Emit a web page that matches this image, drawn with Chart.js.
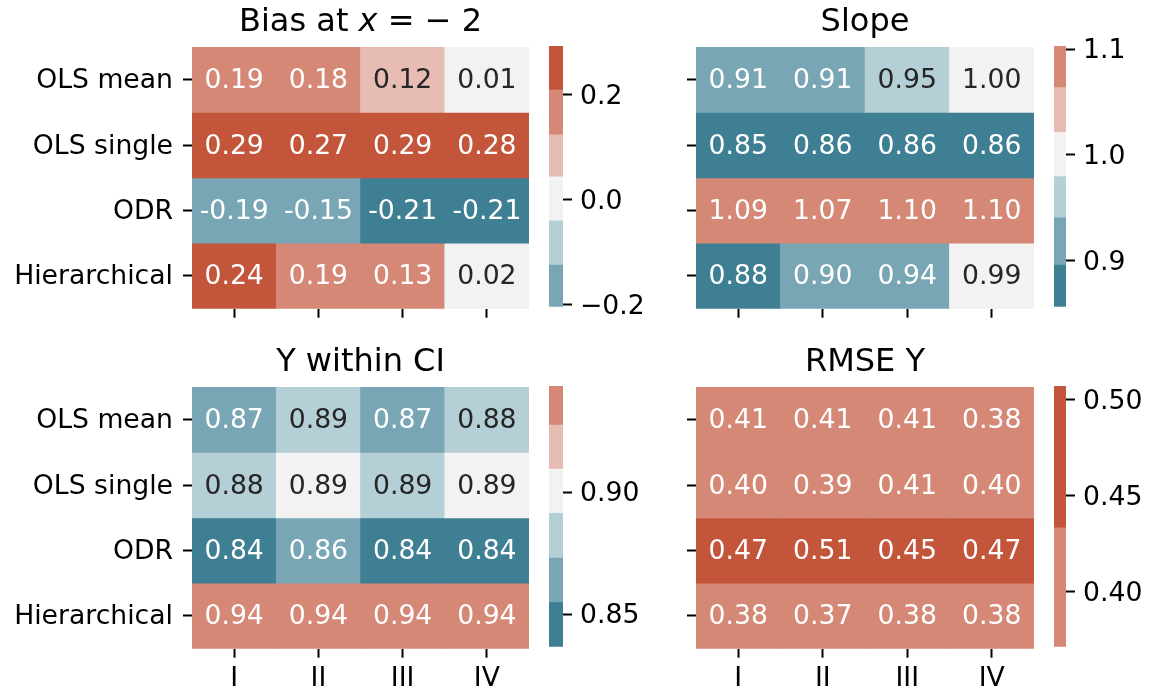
<!DOCTYPE html>
<html>
<head>
<meta charset="utf-8">
<script src="https://cdn.jsdelivr.net/npm/chart.js@4.4.1/dist/chart.umd.min.js"></script>
<style>
  body { margin: 0; background: #fff; }
  #fig { position: relative; width: 1160px; height: 697px; overflow: hidden; background: #fff; }
</style>
</head>
<body>
<div id="fig"></div>
<script>
// rows and columns of every heatmap
const methods = ['OLS mean', 'OLS single', 'ODR', 'Hierarchical'];
const groups = ['I', 'II', 'III', 'IV'];

// cell values, one row per method
const biasVals = [
  [0.19, 0.18, 0.12, 0.01],
  [0.29, 0.27, 0.29, 0.28],
  [-0.19, -0.15, -0.21, -0.21],
  [0.24, 0.19, 0.13, 0.02]
];
const slopeVals = [
  [0.91, 0.91, 0.95, 1.00],
  [0.85, 0.86, 0.86, 0.86],
  [1.09, 1.07, 1.10, 1.10],
  [0.88, 0.90, 0.94, 0.99]
];
const ciVals = [
  [0.87, 0.89, 0.87, 0.88],
  [0.88, 0.892, 0.890, 0.893],
  [0.84, 0.86, 0.84, 0.84],
  [0.94, 0.94, 0.94, 0.94]
];
const rmseVals = [
  [0.41, 0.41, 0.41, 0.38],
  [0.40, 0.39, 0.41, 0.40],
  [0.47, 0.51, 0.45, 0.47],
  [0.38, 0.37, 0.38, 0.38]
];

// 7-step diverging palette (teal -> light grey -> rust)
const palette = ['#3f7f93', '#79a6b4', '#b5cfd7', '#f2f2f2', '#e7bcb2', '#d58875', '#c3553a'];

// bin edges between palette steps for each panel
const biasEdges = [-0.2092, -0.1244, -0.040, 0.0438, 0.1238, 0.209];
const slopeEdges = [0.8959, 0.9405, 0.9795, 1.0215, 1.0637, 1.1055];
const ciEdges = [0.8548, 0.8730, 0.8914, 0.9095, 0.9276, 0.9457];
const rmseEdges = [0.063, 0.137, 0.211, 0.285, 0.359, 0.4333];

// colorbar extents and ticks
const biasRange = [-0.2038, 0.2928];
const slopeRange = [0.8565, 1.1031];
const ciRange = [0.8367, 0.9436];
const rmseRange = [0.3713, 0.5073];
const biasTicks = [-0.2, 0.0, 0.2];
const slopeTicks = [0.9, 1.0, 1.1];
const ciTicks = [0.85, 0.90];
const rmseTicks = [0.40, 0.45, 0.50];

const FONT = '"DejaVu Sans", "Liberation Sans", sans-serif';
const BASE = 26.67;
const fig = document.getElementById('fig');

function binOf(v, edges) {
  let k = 0;
  while (k < edges.length && v >= edges[k]) k++;
  return k;
}

function addCanvas(left, top, w, h) {
  const c = document.createElement('canvas');
  c.width = w;
  c.height = h;
  c.style.cssText = `position:absolute;left:${left}px;top:${top}px;width:${w}px;height:${h}px`;
  fig.appendChild(c);
  return c;
}

// writes the formatted value in the middle of every cell
function cellLabels(vals, edges) {
  return {
    id: 'cellLabels',
    afterDatasetsDraw(chart) {
      const { ctx, scales: { x, y } } = chart;
      ctx.save();
      ctx.font = `${BASE}px ${FONT}`;
      ctx.textAlign = 'center';
      ctx.textBaseline = 'alphabetic';
      vals.forEach((row, r) => row.forEach((v, c) => {
        const k = binOf(v, edges);
        ctx.fillStyle = (k >= 2 && k <= 4) ? '#262626' : '#ffffff';
        ctx.fillText(v.toFixed(2), x.getPixelForValue(c), y.getPixelForValue(r + 0.5) + 8.5);
      }));
      ctx.restore();
    }
  };
}

// panel title, centred on the plot area; parts may be italic
function panelTitle(parts) {
  return {
    id: 'panelTitle',
    afterDraw(chart) {
      const { ctx, chartArea } = chart;
      ctx.save();
      ctx.fillStyle = '#000';
      ctx.textAlign = 'left';
      ctx.textBaseline = 'alphabetic';
      const fonts = parts.map(p => (p[1] ? 'italic ' : '') + `32px ${FONT}`);
      const widths = parts.map((p, i) => { ctx.font = fonts[i]; return ctx.measureText(p[0]).width; });
      const total = widths.reduce((a, b) => a + b, 0);
      let xPos = (chartArea.left + chartArea.right) / 2 - total / 2;
      parts.forEach((p, i) => {
        ctx.font = fonts[i];
        ctx.fillText(p[0], xPos, chartArea.top - 16);
        xPos += widths[i];
      });
      ctx.restore();
    }
  };
}

const tickGrid = { drawOnChartArea: false, tickLength: 9, tickWidth: 2, tickColor: '#000' };

function heatmap(p, box) {
  const canvas = addCanvas(box.left, box.top, box.w, box.h);
  new Chart(canvas, {
    type: 'bar',
    data: {
      labels: groups,
      datasets: methods.map((m, r) => ({
        label: m,
        data: p.vals[r].map(() => [r, r + 1]),
        backgroundColor: p.vals[r].map(v => palette[binOf(v, p.edges)]),
        borderWidth: 0,
        grouped: false,
        barPercentage: 1,
        categoryPercentage: 1
      }))
    },
    options: {
      responsive: false,
      animation: false,
      events: [],
      layout: { padding: { top: 47, right: 16, left: 0, bottom: 0 } },
      plugins: { legend: { display: false }, tooltip: { enabled: false } },
      scales: {
        x: {
          grid: Object.assign({ offset: false }, tickGrid),
          border: { display: false },
          ticks: {
            padding: 5, maxRotation: 0, autoSkip: false, color: '#000',
            font: { family: FONT, size: BASE },
            callback: (v, i) => box.showX ? groups[i] : ''
          },
          afterFit: s => { s.height = box.h - 308.7; }
        },
        y: {
          type: 'linear', min: 0, max: 4, reverse: true,
          afterBuildTicks: s => { s.ticks = methods.map((m, i) => ({ value: i + 0.5 })); },
          grid: tickGrid,
          border: { display: false },
          ticks: {
            padding: 10, autoSkip: false, labelOffset: 1.5, color: '#000',
            font: { family: FONT, size: BASE },
            callback: (v, i) => box.showY ? methods[i] : ''
          },
          afterFit: s => { s.width = box.yw; }
        }
      }
    },
    plugins: [cellLabels(p.vals, p.edges), panelTitle(p.title)]
  });
}

function colorbar(p, box) {
  const [lo, hi] = p.range;
  const bounds = [-Infinity, ...p.edges, Infinity];
  const width = 110;
  const canvas = addCanvas(box.cbLeft, box.top, width, box.h);
  const segs = palette.map((col, k) => ({
    data: [[Math.max(lo, bounds[k]), Math.min(hi, bounds[k + 1])]],
    backgroundColor: col,
    borderWidth: 0,
    grouped: false,
    barPercentage: 1,
    categoryPercentage: 1
  })).filter(d => d.data[0][0] < d.data[0][1]);
  new Chart(canvas, {
    type: 'bar',
    data: { labels: [''], datasets: segs },
    options: {
      responsive: false,
      animation: false,
      events: [],
      layout: { padding: { top: box.cbTop, bottom: box.h - box.cbBottom, left: 0, right: 0 } },
      plugins: { legend: { display: false }, tooltip: { enabled: false } },
      scales: {
        x: { display: false },
        y: {
          position: 'right', min: lo, max: hi,
          afterBuildTicks: s => { s.ticks = p.ticks.map(v => ({ value: v })); },
          grid: tickGrid,
          border: { display: false },
          ticks: {
            padding: 8, autoSkip: false, labelOffset: 2, color: '#000',
            font: { family: FONT, size: BASE },
            callback: (v, i) => p.ticks[i].toFixed(p.digits).replace('-', '\u2212')
          },
          afterFit: s => { s.width = width - box.cbW; }
        }
      }
    }
  });
}

const panels = [
  { vals: biasVals, edges: biasEdges, range: biasRange, ticks: biasTicks, digits: 1,
    title: [['Bias at ', false], ['x', true], [' = \u2212 2', false]] },
  { vals: slopeVals, edges: slopeEdges, range: slopeRange, ticks: slopeTicks, digits: 1,
    title: [['Slope', false]] },
  { vals: ciVals, edges: ciEdges, range: ciRange, ticks: ciTicks, digits: 2,
    title: [['Y within CI', false]] },
  { vals: rmseVals, edges: rmseEdges, range: rmseRange, ticks: rmseTicks, digits: 2,
    title: [['RMSE Y', false]] }
];

// placement of the 2x2 grid
const boxes = [
  { left: 0, top: 0, w: 545, h: 340, yw: 192, showY: true, showX: false, cbLeft: 549, cbW: 14, cbTop: 46, cbBottom: 306.7 },
  { left: 600, top: 0, w: 450, h: 340, yw: 96, showY: false, showX: false, cbLeft: 1054, cbW: 12, cbTop: 46, cbBottom: 306.7 },
  { left: 0, top: 340, w: 545, h: 357, yw: 192, showY: true, showX: true, cbLeft: 549, cbW: 14, cbTop: 46, cbBottom: 306.7 },
  { left: 600, top: 340, w: 450, h: 357, yw: 96, showY: false, showX: true, cbLeft: 1054, cbW: 12, cbTop: 46, cbBottom: 306.7 }
];

panels.forEach((p, i) => {
  heatmap(p, boxes[i]);
  colorbar(p, boxes[i]);
});
</script>
</body>
</html>
